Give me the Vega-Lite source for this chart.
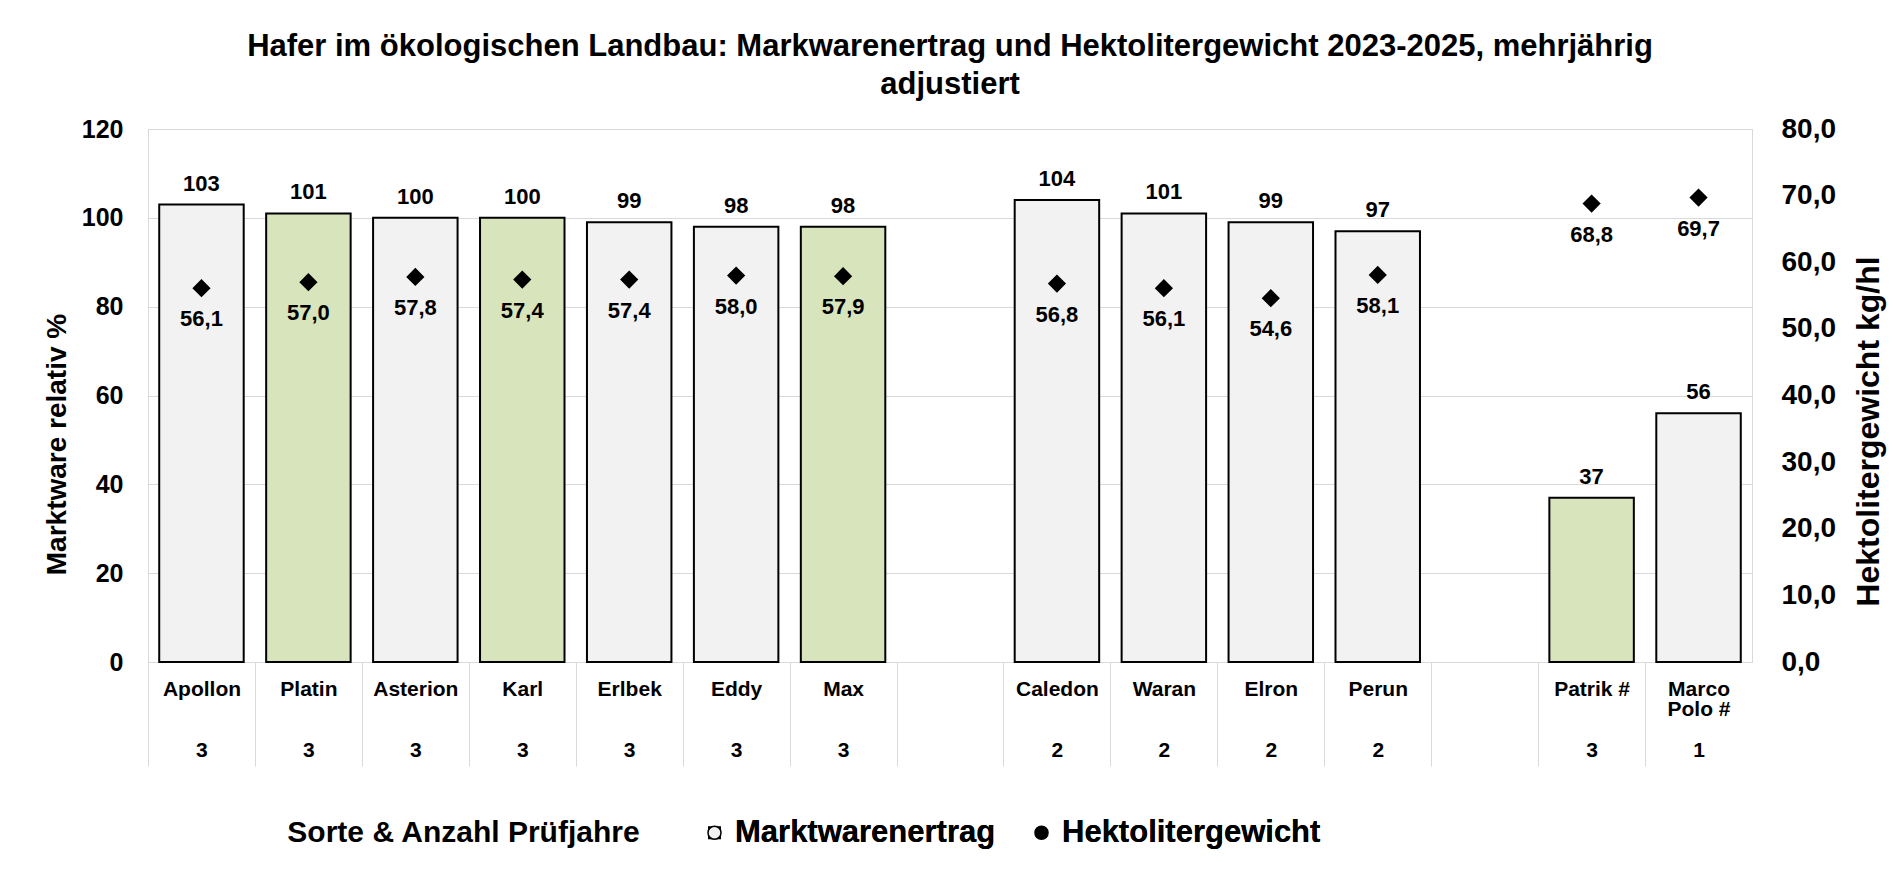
{
  "$schema": "https://vega.github.io/schema/vega-lite/v6.json",
  "autosize": {"type": "none"},
  "padding": {"left": 148, "top": 129, "right": 141, "bottom": 222},
  "width": 1604,
  "height": 533,
  "background": "white",
  "title": {
    "text": ["Hafer im ökologischen Landbau: Markwarenertrag und Hektolitergewicht 2023-2025, mehrjährig", "adjustiert"],
    "font": "Liberation Sans",
    "fontSize": 31,
    "fontWeight": "bold",
    "lineHeight": 38,
    "color": "black",
    "anchor": "middle",
    "offset": 14
  },
  "data": {
    "values": [
      {"sorte": "Apollon", "achse": "Apollon|\u200b|\u200b|3", "jahre": 3, "ertrag": 103, "hl": 56.1, "gruppe": "grau"},
      {"sorte": "Platin", "achse": "Platin|\u200b|\u200b|3", "jahre": 3, "ertrag": 101, "hl": 57.0, "gruppe": "grün"},
      {"sorte": "Asterion", "achse": "Asterion|\u200b|\u200b|3", "jahre": 3, "ertrag": 100, "hl": 57.8, "gruppe": "grau"},
      {"sorte": "Karl", "achse": "Karl|\u200b|\u200b|3", "jahre": 3, "ertrag": 100, "hl": 57.4, "gruppe": "grün"},
      {"sorte": "Erlbek", "achse": "Erlbek|\u200b|\u200b|3", "jahre": 3, "ertrag": 99, "hl": 57.4, "gruppe": "grau"},
      {"sorte": "Eddy", "achse": "Eddy|\u200b|\u200b|3", "jahre": 3, "ertrag": 98, "hl": 58.0, "gruppe": "grau"},
      {"sorte": "Max", "achse": "Max|\u200b|\u200b|3", "jahre": 3, "ertrag": 98, "hl": 57.9, "gruppe": "grün"},
      {"sorte": "Caledon", "achse": "Caledon|\u200b|\u200b|2", "jahre": 2, "ertrag": 104, "hl": 56.8, "gruppe": "grau"},
      {"sorte": "Waran", "achse": "Waran|\u200b|\u200b|2", "jahre": 2, "ertrag": 101, "hl": 56.1, "gruppe": "grau"},
      {"sorte": "Elron", "achse": "Elron|\u200b|\u200b|2", "jahre": 2, "ertrag": 99, "hl": 54.6, "gruppe": "grau"},
      {"sorte": "Perun", "achse": "Perun|\u200b|\u200b|2", "jahre": 2, "ertrag": 97, "hl": 58.1, "gruppe": "grau"},
      {"sorte": "Patrik #", "achse": "Patrik #|\u200b|\u200b|3", "jahre": 3, "ertrag": 37, "hl": 68.8, "gruppe": "grün"},
      {"sorte": "Marco Polo #", "achse": "Marco|Polo #|\u200b|1", "jahre": 1, "ertrag": 56, "hl": 69.7, "gruppe": "grau"}
    ]
  },
  "layer": [
    {
      "layer": [
        {
          "mark": {"type": "bar", "width": {"band": 0.79}, "stroke": "black", "strokeWidth": 2},
          "encoding": {
            "x": {
              "field": "achse", "type": "nominal", "title": "Sorte & Anzahl Prüfjahre",
              "scale": {
                "domain": ["Apollon|\u200b|\u200b|3", "Platin|\u200b|\u200b|3", "Asterion|\u200b|\u200b|3", "Karl|\u200b|\u200b|3", "Erlbek|\u200b|\u200b|3", "Eddy|\u200b|\u200b|3", "Max|\u200b|\u200b|3", "lücke1", "Caledon|\u200b|\u200b|2", "Waran|\u200b|\u200b|2", "Elron|\u200b|\u200b|2", "Perun|\u200b|\u200b|2", "lücke2", "Patrik #|\u200b|\u200b|3", "Marco|Polo #|\u200b|1"],
                "paddingInner": 0, "paddingOuter": 0
              },
              "axis": {
                "orient": "bottom",
                "labelExpr": "indexof(datum.value, '|') < 0 ? '' : split(datum.value, '|')",
                "labelAngle": 0,
                "labelFontSize": 21,
                "labelFontWeight": "bold",
                "labelLineHeight": 20.5,
                "labelBaseline": "top",
                "labelPadding": -88,
                "labelColor": "black",
                "tickSize": 104,
                "tickOffset": -53.47,
                "labelOffset": 53.47,
                "domainColor": "#d9d9d9",
                "tickColor": "#d9d9d9",
                "titleFontSize": 30,
                "titleFontWeight": "bold",
                "titleColor": "black",
                "titleX": 315,
                "titleY": 170,
                "titleAlign": "center",
                "titleBaseline": "middle"
              }
            },
            "y": {
              "field": "ertrag", "type": "quantitative",
              "scale": {"domain": [0, 120], "nice": false, "zero": true},
              "axis": {
                "orient": "left",
                "values": [0, 20, 40, 60, 80, 100, 120],
                "labelFontSize": 25,
                "labelFontWeight": "bold",
                "labelColor": "black",
                "labelPadding": 25,
                "ticks": false,
                "domain": false,
                "grid": true,
                "gridColor": "#d9d9d9",
                "title": "Marktware relativ %",
                "titleFontSize": 28,
                "titleFontWeight": "bold",
                "titleColor": "black",
                "titlePadding": 10,
                "titleY": 315
              }
            },
            "fill": {
              "field": "gruppe", "type": "nominal",
              "scale": {"domain": ["grau", "grün"], "range": ["#f2f2f2", "#d8e4bc"]},
              "legend": null
            }
          }
        },
        {
          "mark": {"type": "text", "fontSize": 22, "fontWeight": "bold", "color": "black", "baseline": "middle", "dy": -21},
          "encoding": {
            "x": {"field": "achse", "type": "nominal", "title": "Sorte & Anzahl Prüfjahre"},
            "y": {"field": "ertrag", "type": "quantitative"},
            "text": {"field": "ertrag", "type": "quantitative"}
          }
        }
      ]
    },
    {
      "layer": [
        {
          "mark": {"type": "point", "filled": true, "stroke": "black", "strokeWidth": 1.5, "size": 260, "opacity": 1},
          "encoding": {
            "x": {"field": "achse", "type": "nominal", "title": "Sorte & Anzahl Prüfjahre"},
            "y": {
              "field": "hl", "type": "quantitative",
              "scale": {"domain": [0, 80], "nice": false, "zero": true},
              "axis": {
                "orient": "right",
                "values": [0, 10, 20, 30, 40, 50, 60, 70, 80],
                "labelExpr": "replace(format(datum.value, '.1f'), '.', ',')",
                "labelFontSize": 28,
                "labelFontWeight": "bold",
                "labelColor": "black",
                "labelPadding": 29,
                "ticks": false,
                "domain": false,
                "grid": false,
                "title": "Hektolitergewicht kg/hl",
                "titleFontSize": 32,
                "titleFontWeight": "bold",
                "titleColor": "black",
                "titleAngle": 270,
                "titlePadding": 50,
                "titleY": 302
              }
            },
            "fill": {
              "datum": "Hektolitergewicht",
              "scale": {"domain": ["Marktwarenertrag", "Hektolitergewicht"], "range": ["#f2f2f2", "black"]},
              "legend": {
                "orient": "none",
                "legendX": 551,
                "legendY": 688,
                "direction": "horizontal",
                "title": null,
                "labelFontSize": 31,
                "labelFontWeight": "bold",
                "labelColor": "black",
                "labelLimit": 600,
                "labelOffset": 5,
                "columnPadding": 30,
                "padding": 0,
                "symbolSize": 170,
                "symbolStrokeColor": "black",
                "symbolStrokeWidth": 1.5
              }
            },
            "shape": {
              "datum": "Hektolitergewicht",
              "scale": {"domain": ["Marktwarenertrag", "Hektolitergewicht"], "range": ["square", "diamond"]},
              "legend": {
                "orient": "none",
                "legendX": 551,
                "legendY": 688,
                "direction": "horizontal",
                "title": null,
                "labelFontSize": 31,
                "labelFontWeight": "bold",
                "labelColor": "black",
                "labelLimit": 600,
                "labelOffset": 5,
                "columnPadding": 30,
                "padding": 0,
                "symbolSize": 170,
                "symbolStrokeColor": "black",
                "symbolStrokeWidth": 1.5
              }
            }
          }
        },
        {
          "mark": {
            "type": "text", "fontSize": 22, "fontWeight": "bold", "color": "black", "baseline": "middle", "dy": 31,
            "text": {"expr": "replace(format(datum.hl, '.1f'), '.', ',')"}
          },
          "encoding": {
            "x": {"field": "achse", "type": "nominal", "title": "Sorte & Anzahl Prüfjahre"},
            "y": {"field": "hl", "type": "quantitative"}
          }
        }
      ]
    }
  ],
  "resolve": {"scale": {"y": "independent", "fill": "independent"}},
  "config": {
    "font": "Liberation Sans",
    "view": {"stroke": "#d9d9d9", "strokeWidth": 1}
  }
}
